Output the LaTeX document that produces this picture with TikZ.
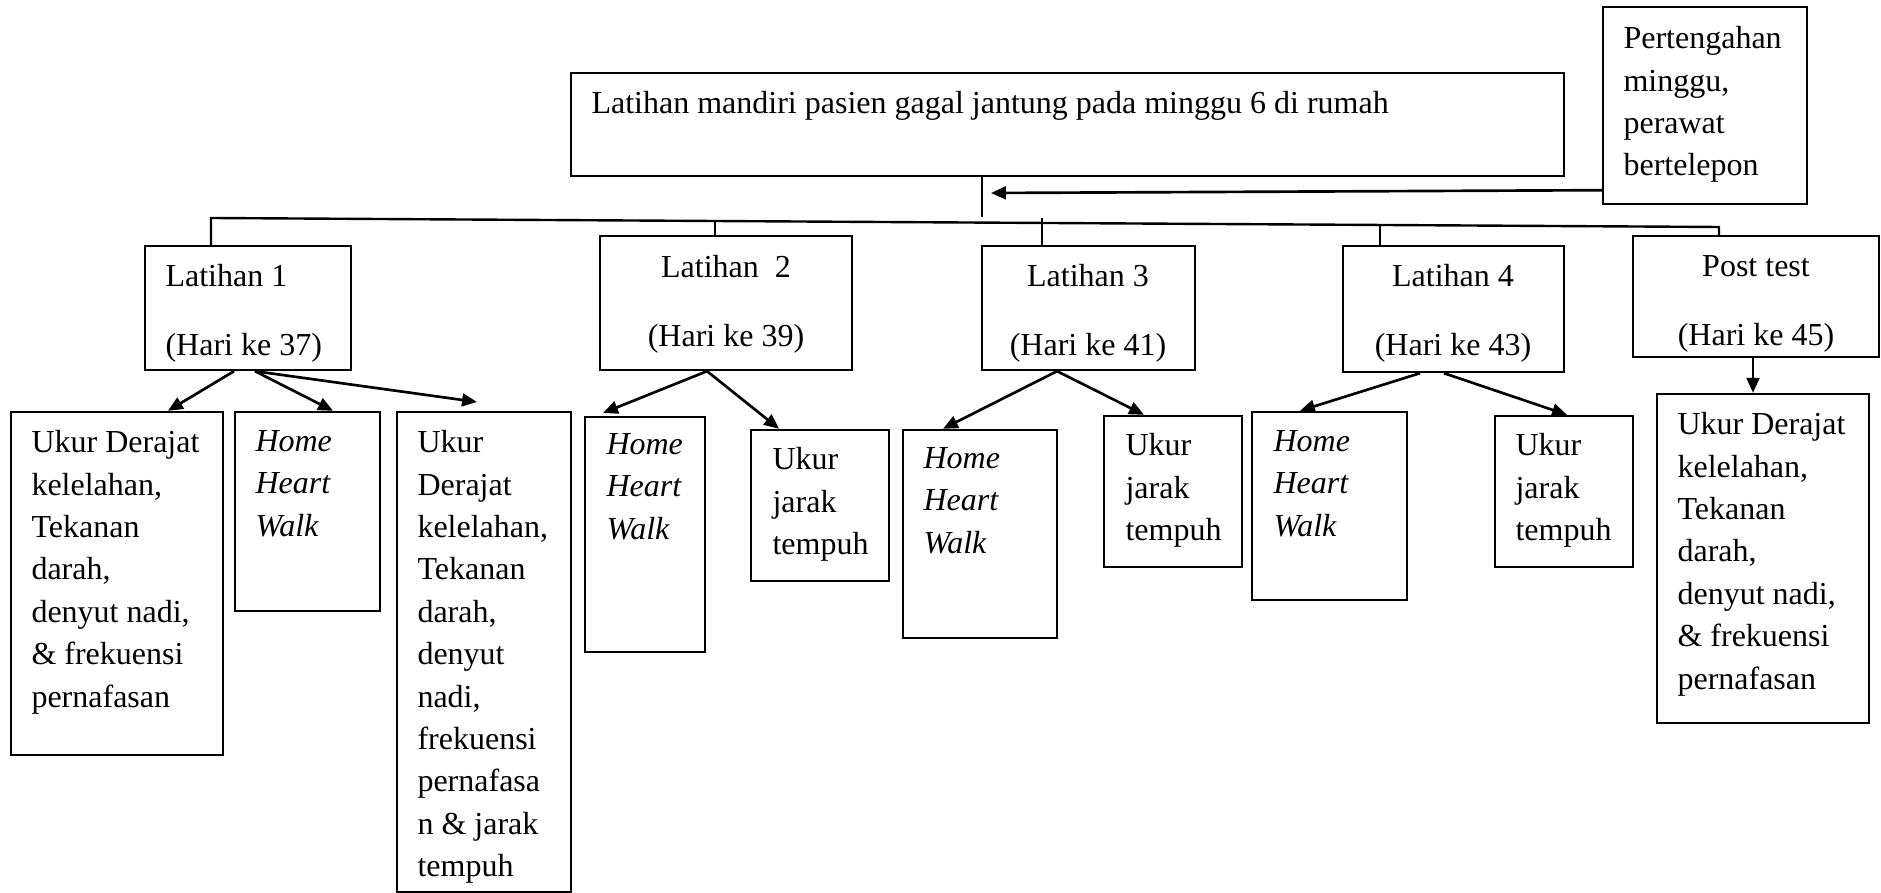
\documentclass[tikz,border=0pt]{standalone}
\usepackage{fontspec}
\setmainfont{Liberation Serif}
\usetikzlibrary{fit,arrows.meta}

\tikzset{
  box/.style={draw, line width=0.9pt, inner sep=0pt},
  txt/.style={anchor=north west, inner sep=0pt, align=left, font=\fontsize{12}{15.9}\selectfont},
  ctxt/.style={anchor=north, inner sep=0pt, align=center, font=\fontsize{12}{15.9}\selectfont},
  arr/.style={-{Triangle[length=5.6pt,width=4.8pt]}, line width=1pt},
  tick/.style={line width=0.5pt}
}

\begin{document}
\begin{tikzpicture}[x=0.375pt,y=-0.375pt]
  \useasboundingbox (0,0) rectangle (1881,893);

  % top row
  \node[box, fit={(571,73) (1564,176)}] (top) {};
  \node[txt] (topt) at (591,91) {Latihan mandiri pasien gagal jantung pada minggu 6 di rumah};
  \node[box, fit={(1603,7) (1807,204)}] (tengah) {};
  \node[txt] (tengaht) at (1623,26) {Pertengahan\\minggu,\\perawat\\bertelepon};

  % sessions
  \node[box, fit={(145,246) (351,370)}] (lat1) {};
  \node[txt] (lat1t) at (165,264) {Latihan 1\\[10pt](Hari ke 37)};
  \node[box, fit={(600,236) (852,370)}] (lat2) {};
  \node[ctxt] (lat2t) at (726,255) {Latihan\ \ 2\\[10pt](Hari ke 39)};
  \node[box, fit={(982,246) (1195,370)}] (lat3) {};
  \node[ctxt] (lat3t) at (1088,264) {Latihan 3\\[10pt](Hari ke 41)};
  \node[box, fit={(1343,246) (1564,372)}] (lat4) {};
  \node[ctxt] (lat4t) at (1453,264) {Latihan 4\\[10pt](Hari ke 43)};
  \node[box, fit={(1633,236) (1879,357)}] (post) {};
  \node[ctxt] (postt) at (1756,255) {Post test\\[10pt](Hari ke 45)};

  % measurements
  \node[box, fit={(11,412) (223,755)}] (ukurA) {};
  \node[txt] (ukurAt) at (31,430) {Ukur Derajat\\kelelahan,\\Tekanan\\darah,\\denyut nadi,\\\& frekuensi\\pernafasan};
  \node[box, fit={(235,412) (380,611)}] (homeB) {};
  \node[txt] (homeBt) at (255,430) {\itshape Home\\\itshape Heart\\\itshape Walk};
  \node[box, fit={(397,412) (571,892)}] (ukurC) {};
  \node[txt] (ukurCt) at (417,430) {Ukur\\Derajat\\kelelahan,\\Tekanan\\darah,\\denyut\\nadi,\\frekuensi\\pernafasa\\n \& jarak\\tempuh};
  \node[box, fit={(585,417) (705,652)}] (homeD) {};
  \node[txt] (homeDt) at (606,433) {\itshape Home\\\itshape Heart\\\itshape Walk};
  \node[box, fit={(751,430) (889,581)}] (ukurE) {};
  \node[txt] (ukurEt) at (772,447) {Ukur\\jarak\\tempuh};
  \node[box, fit={(903,430) (1057,638)}] (homeF) {};
  \node[txt] (homeFt) at (923,447) {\itshape Home\\\itshape Heart\\\itshape Walk};
  \node[box, fit={(1104,416) (1242,567)}] (ukurG) {};
  \node[txt] (ukurGt) at (1125,433) {Ukur\\jarak\\tempuh};
  \node[box, fit={(1252,412) (1407,600)}] (homeH) {};
  \node[txt] (homeHt) at (1273,430) {\itshape Home\\\itshape Heart\\\itshape Walk};
  \node[box, fit={(1495,416) (1633,567)}] (ukurI) {};
  \node[txt] (ukurIt) at (1515,433) {Ukur\\jarak\\tempuh};
  \node[box, fit={(1657,394) (1869,723)}] (ukurJ) {};
  \node[txt] (ukurJt) at (1677,412) {Ukur Derajat\\kelelahan,\\Tekanan\\darah,\\denyut nadi,\\\& frekuensi\\pernafasan};

  % bus
  \coordinate (busL) at (211,218);
  \coordinate (busR) at (1719,227);
  \coordinate (stem) at (982,217);
  \coordinate (callin) at (991,193);
  \coordinate (tipC) at (477,402);
  \draw[line width=0.9pt] (211,0 |- lat1.north) -- (busL) -- (busR) -- (1719,0 |- post.north);
  \draw[tick] (982,0 |- top.south) -- (stem);
  \draw[tick] (715,0 |- lat2.north) -- (715,221);
  \draw[tick] (1042,0 |- lat3.north) -- (1042,218);
  \draw[tick] (1380,0 |- lat4.north) -- (1380,226);
  \draw[arr] ([yshift=15*0.375pt]tengah.south west) -- (callin);

  % arrows
  \draw[arr] (234,0 |- lat1.south) -- (168,0 |- ukurA.north);
  \draw[arr] (255,0 |- lat1.south) -- (333,0 |- homeB.north);
  \draw[arr] (255,0 |- lat1.south) -- (tipC);
  \draw[arr] (707,0 |- lat2.south) -- (603,413);
  \draw[arr] (707,0 |- lat2.south) -- (779,0 |- ukurE.north);
  \draw[arr] (1057,0 |- lat3.south) -- (943,0 |- homeF.north);
  \draw[arr] (1057,0 |- lat3.south) -- (1144,0 |- ukurG.north);
  \draw[arr] (1420,0 |- lat4.south) -- (1300,0 |- homeH.north);
  \draw[arr] (1444,0 |- lat4.south) -- (1567,0 |- ukurI.north);
  \draw[arr] (1753,0 |- post.south) -- (1753,0 |- ukurJ.north);
\end{tikzpicture}
\end{document}
